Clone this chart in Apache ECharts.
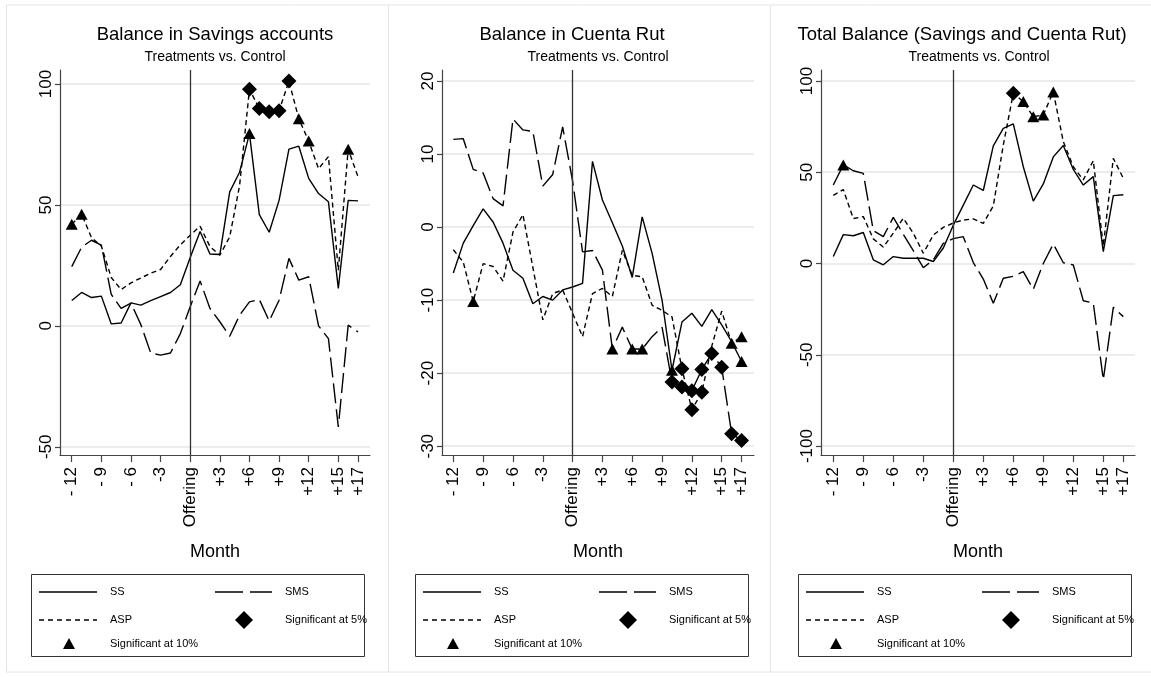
<!DOCTYPE html>
<html>
<head>
<meta charset="utf-8">
<script src="https://cdn.jsdelivr.net/npm/echarts@6/dist/echarts.min.js"></script>
<style>
html,body{margin:0;padding:0;background:#fff;}
#chart{width:1151px;height:677px;}
</style>
</head>
<body>
<div id="chart"></div>
<script>
// ---------- DATA ----------
const months = [-12,-11,-10,-9,-8,-7,-6,-5,-4,-3,-2,-1,0,1,2,3,4,5,6,7,8,9,10,11,12,13,14,15,16,17];

const xTickValues = [-12,-9,-6,-3,0,3,6,9,12,15,17];
const xTickLabels = ['- 12','- 9','- 6','-3','Offering','+3','+6','+9','+12','+15','+17'];

const panelTitles = ['Balance in Savings accounts','Balance in Cuenta Rut','Total Balance (Savings and Cuenta Rut)'];
const panelSubtitle = 'Treatments vs. Control';
const xAxisName = 'Month';
const seriesNames = ['SS','SMS','ASP'];
const sigLabels = ['Significant at 5%','Significant at 10%'];

// Panel 1: Balance in Savings accounts
const savSS  = [10.5,13.8,11.7,12.3,0.8,1.2,9.5,8.6,10.4,12.1,13.8,17.0,28.3,39.0,29.7,29.5,55.4,63.5,79.5,46.0,38.7,51.9,73.1,74.3,61.0,54.7,51.3,15.5,51.9,51.7];
const savSMS = [24.5,32.5,35.4,33.4,13.0,7.2,9.4,0.5,-11.2,-12.1,-11.2,-3.2,7.9,18.6,7.2,1.7,-4.3,4.4,9.9,10.9,2.0,10.6,27.9,18.9,20.3,0.0,-5.3,-41.8,0.3,-2.5];
const savASP = [42.0,46.2,36.5,33.0,20.0,15.0,17.8,19.8,21.8,23.3,28.7,33.5,37.5,41.2,32.8,29.2,36.8,58.0,97.8,89.9,88.5,88.9,101.2,85.6,76.4,65.0,70.0,23.0,73.0,61.6];
const savTriSS = [6];
const savTriSMS = [];
const savTriASP = [-12,-11,11,12,16];
const savDiaSS = [];
const savDiaSMS = [];
const savDiaASP = [6,7,8,9,10];
const savTicks = [-50,0,50,100];

// Panel 2: Balance in Cuenta Rut
const crSS  = [-6.3,-2.2,0.2,2.5,0.7,-2.2,-5.9,-7.0,-10.5,-9.5,-10.0,-8.6,-8.2,-7.7,9.0,3.7,0.6,-2.6,-6.9,1.4,-3.6,-10.0,-19.6,-13.0,-11.8,-13.6,-11.3,-13.4,-15.7,-18.4];
const crSMS = [12.0,12.1,7.9,7.4,3.9,2.9,14.8,13.3,13.1,5.6,7.2,13.7,6.3,-3.4,-3.2,-5.9,-16.7,-13.7,-16.7,-16.7,-15.0,-13.7,-21.2,-21.9,-22.4,-19.5,-17.3,-19.2,-28.3,-29.2];
const crASP = [-3.1,-4.8,-10.2,-5.0,-5.4,-7.4,-0.7,1.7,-5.5,-12.7,-9.1,-8.6,-11.8,-15.0,-9.1,-8.4,-9.5,-3.2,-6.6,-6.8,-10.7,-11.4,-12.3,-19.4,-25.0,-22.6,-16.3,-11.5,-15.9,-15.0];
const crTriSS = [10,17];
const crTriSMS = [4,6,7];
const crTriASP = [-10,16,17];
const crDiaSS = [];
const crDiaSMS = [10,11,12,13,14,15,16,17];
const crDiaASP = [11,12,13];
const crTicks = [-30,-20,-10,0,10,20];

// Panel 3: Total Balance
const totSS  = [3.8,15.8,15.2,17.0,2.0,-0.7,3.8,2.9,2.9,2.9,1.1,8.5,21.0,32.0,43.0,40.0,64.4,74.0,76.5,53.0,34.2,43.6,58.4,64.6,51.5,43.0,47.6,6.5,37.2,37.7];
const totSMS = [43.0,54.0,50.8,49.4,18.0,14.7,25.3,16.0,7.0,-2.3,2.0,11.0,13.6,14.7,0.5,-8.5,-21.8,-8.1,-7.0,-4.5,-14.1,0.0,10.7,0.4,-0.8,-20.4,-21.6,-63.7,-24.0,-29.1];
const totASP = [37.3,40.5,24.6,25.7,13.5,9.0,16.6,24.8,16.6,5.6,15.6,19.8,22.2,23.8,24.4,22.0,31.5,65.0,93.2,88.7,80.4,81.4,94.0,66.8,53.0,45.8,56.3,9.5,57.6,46.7];
const totTriSS = [];
const totTriSMS = [-11];
const totTriASP = [7,8,9,10];
const totDiaSS = [];
const totDiaSMS = [];
const totDiaASP = [6];
const totTicks = [-100,-50,0,50,100];

// ---------- LAYOUT / STYLE ----------
const FONT = '"Liberation Sans", Arial, Helvetica, sans-serif';
const grids = [
  {left:60, top:70, width:310, height:385},
  {left:442, top:70, width:312, height:385},
  {left:821, top:70, width:314, height:385}
];
const xRange = [[-13.19,18.21],[-13.14,18.25],[-13.23,18.17]];
const yRange = [[-53.4,105.8],[-31.2,21.5],[-104.9,106.0]];
const yTicks = [savTicks, crTicks, totTicks];
const titleX = [215, 572, 962];
const subX = [215, 598, 979];
const legendRight = [364, 748, 1131];

const dashSMS = [20,6];
const dashASP = [5,3.5];
const lineW = 1.4;

function buildData(vals, tri, dia){
  return months.map((m,i)=>{
    const item = {value:[m, vals[i]]};
    if (dia.includes(m)) { item.symbol = 'diamond'; item.symbolSize = [15,15]; }
    else if (tri.includes(m)) { item.symbol = 'triangle'; item.symbolSize = [12,11]; }
    else { item.symbol = 'none'; }
    return item;
  });
}

const panelData = [
  [[savSS,savTriSS,savDiaSS],[savSMS,savTriSMS,savDiaSMS],[savASP,savTriASP,savDiaASP]],
  [[crSS,crTriSS,crDiaSS],[crSMS,crTriSMS,crDiaSMS],[crASP,crTriASP,crDiaASP]],
  [[totSS,totTriSS,totDiaSS],[totSMS,totTriSMS,totDiaSMS],[totASP,totTriASP,totDiaASP]]
];
const dashes = ['solid', dashSMS, dashASP];

const xAxes = [], yAxes = [], series = [];
for (let p=0;p<3;p++){
  xAxes.push({
    gridIndex:p, type:'value', min:xRange[p][0], max:xRange[p][1],
    name:xAxisName, nameLocation:'middle', nameGap:88,
    nameTextStyle:{fontSize:18, color:'#000', fontFamily:FONT},
    axisLine:{show:true, onZero:false, lineStyle:{color:'#444', width:1.2}},
    axisTick:{show:true, length:7, customValues:xTickValues, lineStyle:{color:'#444', width:1.2}},
    axisLabel:{show:true, rotate:90, margin:12, fontSize:17, color:'#000', fontFamily:FONT,
      customValues:xTickValues,
      formatter:(v)=>{const k=xTickValues.indexOf(v); return k>=0?xTickLabels[k]:'';}},
    splitLine:{show:false}
  });
  yAxes.push({
    gridIndex:p, type:'value', min:yRange[p][0], max:yRange[p][1],
    axisLine:{show:true, onZero:false, lineStyle:{color:'#444', width:1.2}},
    axisTick:{show:true, length:5, customValues:yTicks[p], lineStyle:{color:'#444', width:1.2}},
    axisLabel:{show:true, rotate:90, margin:5, fontSize:17, color:'#000', fontFamily:FONT,
      customValues:yTicks[p]},
    splitLine:{show:true, lineStyle:{color:'#e6e6e6', width:1.5}}
  });
  for (let s=0;s<3;s++){
    const [vals,tri,dia] = panelData[p][s];
    const ser = {
      type:'line', name:seriesNames[s], xAxisIndex:p, yAxisIndex:p,
      data:buildData(vals,tri,dia),
      symbol:'none', showSymbol:true, showAllSymbol:true,
      lineStyle:{color:'#000', width:lineW, type:dashes[s]},
      itemStyle:{color:'#000'},
      silent:true, z:3
    };
    if (s===0){
      ser.markLine = {
        silent:true, symbol:['none','none'], label:{show:false},
        lineStyle:{color:'#333', width:1.3, type:'solid'},
        data:[{xAxis:0}]
      };
    }
    series.push(ser);
  }
}

// graphics: panel frames, titles, legends
const graphics = [];
const frameColor = '#e4e4e4';
graphics.push({type:'line', shape:{x1:6,y1:5,x2:1151,y2:5}, style:{stroke:frameColor, lineWidth:1}, silent:true});
[6.5, 388.5, 770.5].forEach(x=>{
  graphics.push({type:'line', shape:{x1:x,y1:5,x2:x,y2:672}, style:{stroke:frameColor, lineWidth:1}, silent:true});
});
graphics.push({type:'line', shape:{x1:6,y1:672,x2:1151,y2:672}, style:{stroke:frameColor, lineWidth:1}, silent:true});

for (let p=0;p<3;p++){
  graphics.push({type:'text', x:titleX[p], y:35, silent:true,
    style:{text:panelTitles[p], fontSize:18.5, fontFamily:FONT, fill:'#000', align:'center', verticalAlign:'middle'}});
  graphics.push({type:'text', x:subX[p], y:57, silent:true,
    style:{text:panelSubtitle, fontSize:14, fontFamily:FONT, fill:'#000', align:'center', verticalAlign:'middle'}});
  const R = legendRight[p];
  const L = R - 333;
  graphics.push({type:'rect', shape:{x:L+0.5, y:574.5, width:R-L, height:82}, style:{fill:'#fff', stroke:'#333', lineWidth:1}, silent:true});
  // SS
  graphics.push({type:'line', shape:{x1:R-325,y1:592,x2:R-267,y2:592}, style:{stroke:'#000', lineWidth:lineW}, silent:true});
  graphics.push({type:'text', x:R-254, y:592, silent:true, style:{text:seriesNames[0], fontSize:11, fontFamily:FONT, fill:'#000', verticalAlign:'middle'}});
  // SMS
  graphics.push({type:'line', shape:{x1:R-149,y1:592,x2:R-92,y2:592}, style:{stroke:'#000', lineWidth:lineW, lineDash:[28,7]}, silent:true});
  graphics.push({type:'text', x:R-79, y:592, silent:true, style:{text:seriesNames[1], fontSize:11, fontFamily:FONT, fill:'#000', verticalAlign:'middle'}});
  // ASP
  graphics.push({type:'line', shape:{x1:R-325,y1:620,x2:R-267,y2:620}, style:{stroke:'#000', lineWidth:lineW, lineDash:[5,4]}, silent:true});
  graphics.push({type:'text', x:R-254, y:620, silent:true, style:{text:seriesNames[2], fontSize:11, fontFamily:FONT, fill:'#000', verticalAlign:'middle'}});
  // diamond
  const dx = R-120, dy = 620;
  graphics.push({type:'polygon', shape:{points:[[dx,dy-9],[dx+9,dy],[dx,dy+9],[dx-9,dy]]}, style:{fill:'#000'}, silent:true});
  graphics.push({type:'text', x:R-79, y:620, silent:true, style:{text:sigLabels[0], fontSize:11, fontFamily:FONT, fill:'#000', verticalAlign:'middle'}});
  // triangle
  const tx = R-295, ty = 644;
  graphics.push({type:'polygon', shape:{points:[[tx,ty-6],[tx+6,ty+5],[tx-6,ty+5]]}, style:{fill:'#000'}, silent:true});
  graphics.push({type:'text', x:R-254, y:644, silent:true, style:{text:sigLabels[1], fontSize:11, fontFamily:FONT, fill:'#000', verticalAlign:'middle'}});
}

const chart = echarts.init(document.getElementById('chart'), null, {renderer:'canvas'});
chart.setOption({
  animation:false,
  backgroundColor:'#fff',
  textStyle:{fontFamily:FONT},
  grid:grids,
  xAxis:xAxes,
  yAxis:yAxes,
  series:series,
  graphic:graphics
});
</script>
</body>
</html>
